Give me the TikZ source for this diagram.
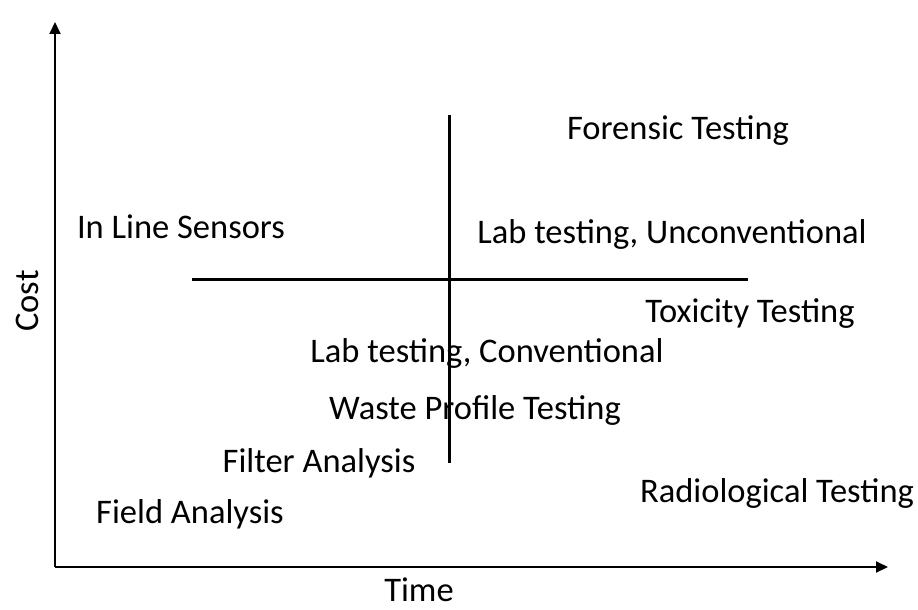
\documentclass[tikz,border=0pt]{standalone}
\usepackage{fontspec}
\setmainfont{Carlito}
\usetikzlibrary{arrows.meta}

\begin{document}
\begin{tikzpicture}[x=1pt,y=-1pt,
    axis/.style={line width=2pt, -{Triangle[length=12pt,width=11pt]}},
    cross/.style={line width=3pt},
    lbl/.style={font=\fontsize{34.5}{40}\selectfont, inner sep=0pt}]

\useasboundingbox (0,0) rectangle (918,610);

% Axes
\coordinate (O) at (55,567);
\coordinate (Ytop) at (55,22);
\coordinate (Xend) at (888,567);
\draw[axis] (O) -- (Ytop);
\draw[axis] (O) -- (Xend);
\node[lbl] (time) at (419,590) {Time};
\node[lbl, rotate=90] (cost) at (27,301) {Cost};

% Quadrant lines
\coordinate (H1) at (192,279);
\coordinate (H2) at (748,279);
\coordinate (V1) at (449,115);
\coordinate (V2) at (449,463);
\draw[cross] (H1) -- (H2);
\draw[cross] (V1) -- (V2);

% Methods
\node[lbl] (forensic) at (678,131) {Forensic Testing};
\node[lbl] (inline) at (181,227) {In Line Sensors};
\node[lbl] (labunconv) at (672,234) {Lab testing, Unconventional};
\node[lbl] (toxicity) at (750,314) {Toxicity Testing};
\node[lbl] (labconv) at (487,353) {Lab testing, Conventional};
\node[lbl] (waste) at (475,410) {Waste Profile Testing};
\node[lbl] (filter) at (319,463) {Filter Analysis};
\node[lbl] (radio) at (777,493) {Radiological Testing};
\node[lbl] (field) at (190,514) {Field Analysis};

\end{tikzpicture}
\end{document}
